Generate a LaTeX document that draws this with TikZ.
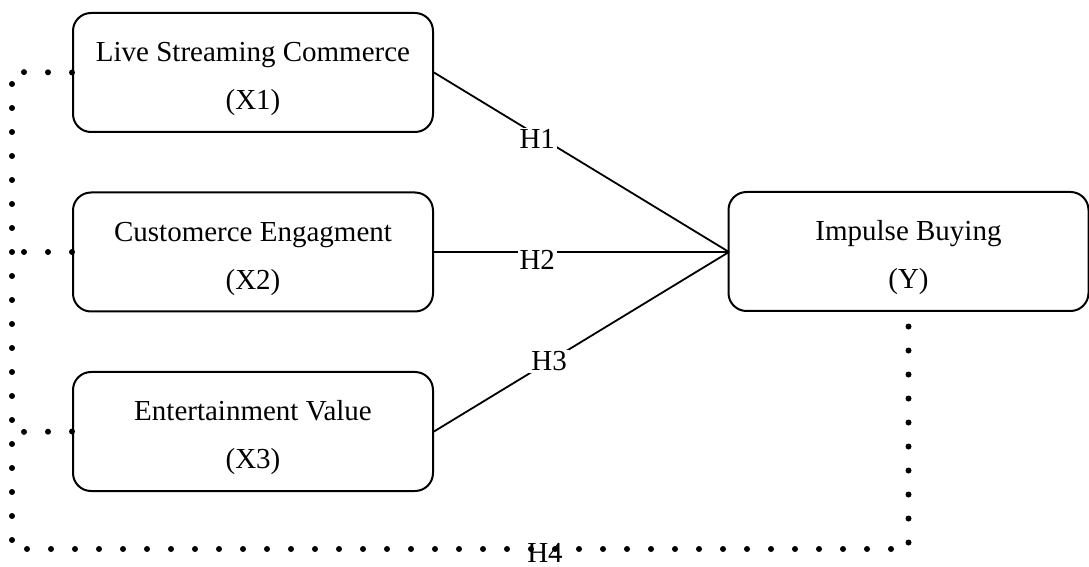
\documentclass[tikz,border=0pt]{standalone}
\usepackage{fontspec}
\setmainfont{Liberation Serif}
\newcommand{\upstrut}{\rule{0pt}{16.5pt}}
\begin{document}
\begin{tikzpicture}[x=0.5pt,y=-0.5pt,
  varbox/.style={draw,line width=1pt,rounded corners=9pt,minimum width=180pt,minimum height=59.5pt,
    align=center,inner sep=0pt,font=\fontsize{14.5}{24}\selectfont},
  path/.style={line width=0.9pt},
  hlab/.style={fill=white,inner sep=1pt,font=\fontsize{14.5}{17}\selectfont},
  dotline/.style={line width=3pt,line cap=round,dash pattern=on 0pt off 12pt}]
\useasboundingbox (0,0) rectangle (1089,567);
\node[varbox] (x1) at (253,72.5) {\upstrut Live Streaming Commerce\\(X1)};
\node[varbox] (x2) at (253,252) {\upstrut Customerce Engagment\\(X2)};
\node[varbox] (x3) at (253,431.5) {\upstrut Entertainment Value\\(X3)};
\node[varbox] (yb) at (908.5,251.5) {\upstrut Impulse Buying\\(Y)};
\coordinate (m) at (729,252);
\draw[path] (x1.east) -- node[hlab,pos=0.35,yshift=-2pt] (h1) {H1} (m);
\draw[path] (x2.east) -- node[hlab,pos=0.35,yshift=-4pt] (h2) {H2} (m);
\draw[path] (x3.east) -- node[hlab,pos=0.39] (h3) {H3} (m);
\coordinate (c1) at (12,72);
\coordinate (c2) at (12,252);
\coordinate (c3) at (12,432);
\coordinate (c4) at (12,549);
\coordinate (c5) at (908.5,549);
\draw[dotline] (x1.west) -- (c1) -- (c4) -- (c5) -- (yb.south);
\draw[dotline] (x2.west) -- (c2);
\draw[dotline] (x3.west) -- (c3);
\node[font=\fontsize{14.5}{17}\selectfont,inner sep=0pt] (h4) at (545,553) {H4};
\end{tikzpicture}
\end{document}
